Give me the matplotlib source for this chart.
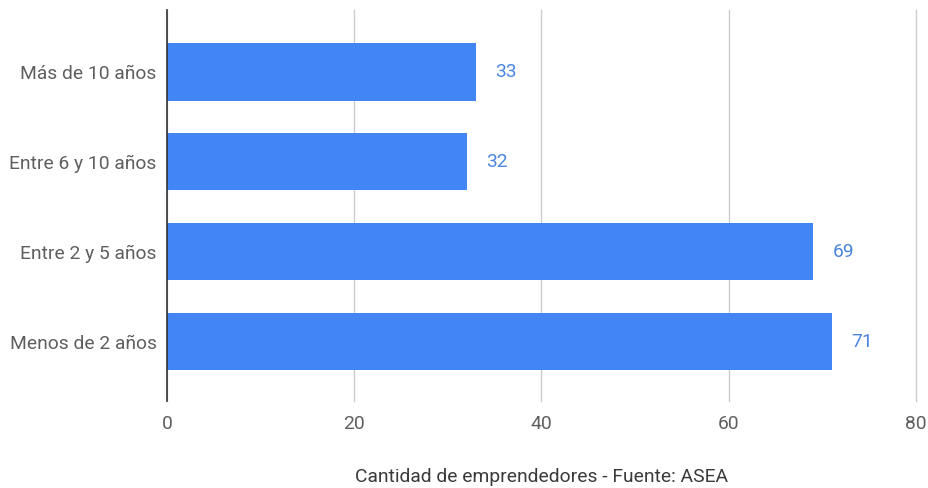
import matplotlib
matplotlib.use("Agg")
import matplotlib.pyplot as plt

plt.rcParams['font.family'] = ['Roboto', 'DejaVu Sans']

categories = ["Más de 10 años", "Entre 6 y 10 años", "Entre 2 y 5 años", "Menos de 2 años"]
values = [33, 32, 69, 71]
xticks = [0, 20, 40, 60, 80]
xlabel = "Cantidad de emprendedores - Fuente: ASEA"

W, H = 929, 488
fig = plt.figure(figsize=(W / 100, H / 100), dpi=100)
left, right, top, bottom = 167, 916, 10, 401
ax = fig.add_axes([left / W, 1 - bottom / H, (right - left) / W, (bottom - top) / H])

bar_color = "#4285F4"
fs = 13.9
ypos = list(range(len(categories)))
ax.barh(ypos, values, height=0.635, color=bar_color, zorder=2)
ax.set_ylim(3.66, -0.69)
ax.set_xlim(0, 80)

ax.set_xticks(xticks)
ax.set_xticklabels([str(t) for t in xticks])
ax.set_yticks(ypos)
ax.set_yticklabels(categories)
ax.tick_params(axis='both', length=0, labelsize=fs, colors="#5f5f5f")
ax.tick_params(axis='x', pad=10)
ax.tick_params(axis='y', pad=7.5)

ax.grid(axis='x', color="#cccccc", linewidth=1, zorder=0)
for gl in ax.get_xgridlines():
    gl.set_clip_on(False)
for s in ["top", "right", "bottom"]:
    ax.spines[s].set_visible(False)
ax.spines["left"].set_color("#333333")
ax.spines["left"].set_linewidth(1.2)
ax.spines["left"].set_zorder(3)

for y, v in zip(ypos, values):
    ax.annotate(str(v), xy=(v, y), xytext=(14, 0), textcoords="offset points",
                va="center", ha="left", fontsize=fs, color="#4a86e0")

fig.text((left + right) / 2 / W, 1 - 477 / H, xlabel, ha="center", va="center",
         fontsize=fs, color="#3a3a3a")

fig.savefig("out.png", dpi=100)
